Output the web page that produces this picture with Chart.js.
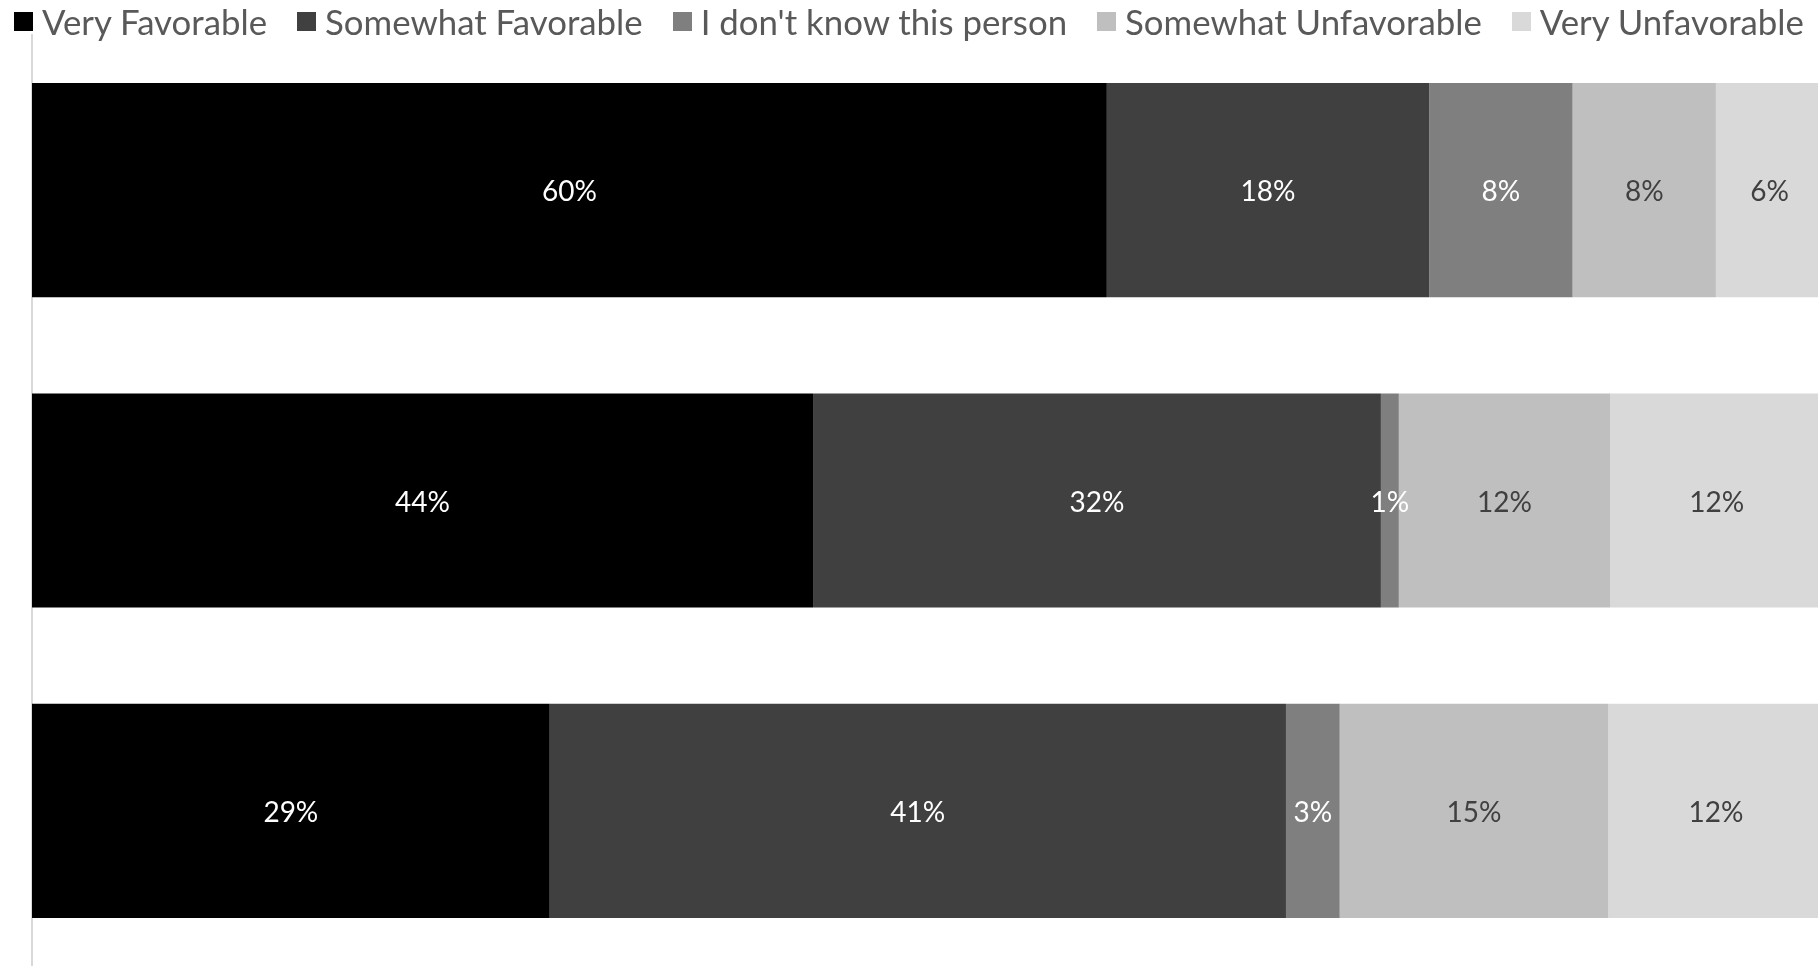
<!DOCTYPE html>
<html>
<head>
<meta charset="utf-8">
<script src="https://cdn.jsdelivr.net/npm/chart.js@4/dist/chart.umd.min.js"></script>
<style>
  html, body { margin: 0; padding: 0; background: #ffffff; overflow: hidden; }
  #wrap { position: relative; width: 1818px; height: 966px; }
  #chart { position: absolute; left: 0; top: 0; }
  #legend {
    position: absolute; left: 14px; top: 0; height: 42px;
    display: flex; align-items: center; gap: 30px;
    font-family: Lato, "Open Sans", sans-serif; font-size: 34.8px; color: #595959;
    white-space: nowrap;
  }
  .item { display: flex; align-items: center; gap: 9px; }
  .box { width: 19px; height: 19px; display: inline-block; }
</style>
</head>
<body>
<div id="wrap">
  <canvas id="chart" width="1818" height="966"></canvas>
  <div id="legend"></div>
</div>
<script>
// Categories (respondent groups; their labels are not visible in the picture)
const categories = ["Group 1", "Group 2", "Group 3"];

// Series names
const seriesNames = ["Very Favorable", "Somewhat Favorable", "I don't know this person", "Somewhat Unfavorable", "Very Unfavorable"];

// Series values (percent)
const veryFavorable       = [60.0, 43.6, 28.9];
const somewhatFavorable   = [18.0, 31.7, 41.1];
const dontKnow            = [8.0, 1.0, 3.0];
const somewhatUnfavorable = [8.0, 11.8, 15.0];
const veryUnfavorable     = [6.0, 11.9, 12.0];

const seriesColors = ["#000000", "#404040", "#7F7F7F", "#BFBFBF", "#D9D9D9"];
const labelColors  = ["#FFFFFF", "#FFFFFF", "#FFFFFF", "#404040", "#404040"];

const seriesValues = [veryFavorable, somewhatFavorable, dontKnow, somewhatUnfavorable, veryUnfavorable];

const datasets = seriesNames.map((name, i) => ({
  label: name,
  data: seriesValues[i],
  backgroundColor: seriesColors[i],
  borderWidth: 0,
  categoryPercentage: 1.0,
  barPercentage: 0.69
}));

const segLabels = {
  id: 'segLabels',
  afterDatasetsDraw(chart) {
    const ctx = chart.ctx;
    ctx.save();
    ctx.font = '28px Lato, "Open Sans", sans-serif';
    ctx.textAlign = 'center';
    ctx.textBaseline = 'middle';
    chart.data.datasets.forEach((ds, di) => {
      const meta = chart.getDatasetMeta(di);
      meta.data.forEach((bar, i) => {
        const v = ds.data[i];
        const p = bar.getCenterPoint();
        ctx.fillStyle = labelColors[di];
        ctx.fillText(Math.round(v) + '%', p.x, p.y + 2);
      });
    });
    ctx.restore();
  }
};

const chart = new Chart(document.getElementById('chart'), {
  type: 'bar',
  data: { labels: categories, datasets },
  options: {
    indexAxis: 'y',
    responsive: false,
    animation: false,
    devicePixelRatio: 1,
    layout: { padding: { top: 35, left: 32, right: 0, bottom: 0 } },
    plugins: { legend: { display: false }, tooltip: { enabled: false } },
    scales: {
      x: {
        stacked: true, min: 0, max: 99.7, display: false
      },
      y: {
        stacked: true,
        ticks: { display: false },
        grid: { display: false, drawTicks: false },
        border: { display: true, color: '#D9D9D9', width: 2 }
      }
    }
  },
  plugins: [segLabels]
});

// HTML legend built from the chart's datasets
const legendEl = document.getElementById('legend');
chart.data.datasets.forEach(ds => {
  const item = document.createElement('div');
  item.className = 'item';
  const box = document.createElement('span');
  box.className = 'box';
  box.style.background = ds.backgroundColor;
  const txt = document.createElement('span');
  txt.textContent = ds.label;
  item.appendChild(box);
  item.appendChild(txt);
  legendEl.appendChild(item);
});
</script>
</body>
</html>
